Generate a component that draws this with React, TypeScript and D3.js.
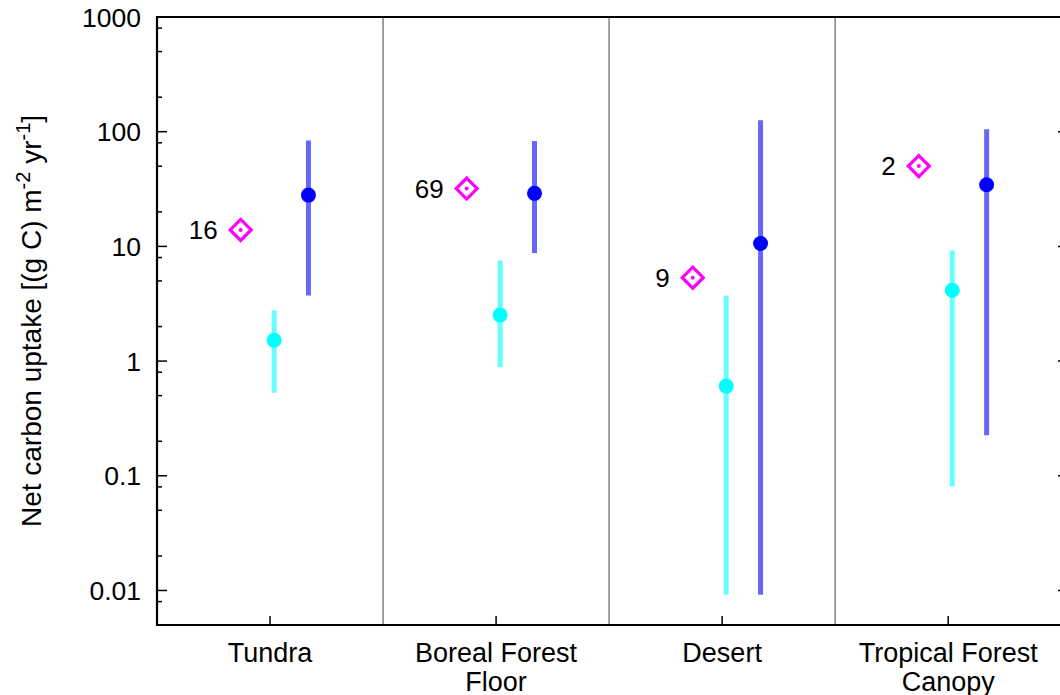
import React, { useEffect, useRef } from 'react';
import * as d3 from 'd3';

const categories = ['Tundra', 'Boreal Forest|Floor', 'Desert', 'Tropical Forest|Canopy'];
const countLabels = ['16', '69', '9', '2'];
const diamondValues = [13.9, 31.9, 5.34, 50.1];
const cyanMid = [1.52, 2.52, 0.605, 4.14];
const cyanLow = [0.53, 0.887, 0.0092, 0.0808];
const cyanHigh = [2.77, 7.55, 3.74, 9.23];
const blueMid = [28, 29.0, 10.6, 34.5];
const blueLow = [3.74, 8.74, 0.0092, 0.226];
const blueHigh = [84, 82.8, 125.6, 104.8];
const majorTicks = [0.01, 0.1, 1, 10, 100, 1000];
const tickLabels = ['0.01', '0.1', '1', '10', '100', '1000'];

const W = 1060;
const H = 695;
const FONT = '"Liberation Sans", Arial, Helvetica, sans-serif';

export default function App() {
  const svgRef = useRef<SVGSVGElement>(null);

  useEffect(() => {
    if (!svgRef.current) return;
    const svg = d3.select(svgRef.current);
    svg.selectAll('*').remove();

    const left = 157;
    const right = 1068;
    const top = 17;
    const bottom = 625;

    const x = d3.scaleLinear().domain([0.5, 4.53]).range([left, right]);
    const y = d3.scaleLog().domain([0.005, 1000]).range([bottom, top]);

    const idx = categories.map((_, i) => i + 1);

    // minor ticks at 2, 5, 8 of each decade
    const minor: number[] = [];
    for (let e = -3; e <= 2; e++) {
      [2, 5, 8].forEach(m => {
        const v = m * Math.pow(10, e);
        if (v >= 0.005 && v <= 1000) minor.push(v);
      });
    }

    // category separators
    svg.append('g')
      .selectAll('line')
      .data([1.5, 2.5, 3.5])
      .enter()
      .append('line')
      .attr('x1', d => x(d)).attr('x2', d => x(d))
      .attr('y1', top).attr('y2', bottom)
      .attr('stroke', '#808080')
      .attr('stroke-width', 1.5);

    // left axis ticks
    svg.append('g')
      .selectAll('line')
      .data(majorTicks)
      .enter()
      .append('line')
      .attr('x1', left).attr('x2', left + 10)
      .attr('y1', d => y(d)).attr('y2', d => y(d))
      .attr('stroke', '#000').attr('stroke-width', 1.5);
    svg.append('g')
      .selectAll('line')
      .data(minor)
      .enter()
      .append('line')
      .attr('x1', left).attr('x2', left + 5)
      .attr('y1', d => y(d)).attr('y2', d => y(d))
      .attr('stroke', '#000').attr('stroke-width', 1.5);

    // mirrored right ticks
    svg.append('g')
      .selectAll('line')
      .data(majorTicks)
      .enter()
      .append('line')
      .attr('x1', right - 10).attr('x2', right)
      .attr('y1', d => y(d)).attr('y2', d => y(d))
      .attr('stroke', '#000').attr('stroke-width', 1.5);

    // bottom ticks
    svg.append('g')
      .selectAll('line')
      .data(idx)
      .enter()
      .append('line')
      .attr('x1', d => x(d)).attr('x2', d => x(d))
      .attr('y1', bottom).attr('y2', bottom - 9)
      .attr('stroke', '#000').attr('stroke-width', 1.5);

    // frame
    svg.append('path')
      .attr('d', `M${left},${bottom}H${right}V${top}H${left}Z`)
      .attr('fill', 'none')
      .attr('stroke', '#000')
      .attr('stroke-width', 2.2);

    // y tick labels
    svg.append('g')
      .selectAll('text')
      .data(majorTicks)
      .enter()
      .append('text')
      .attr('x', 141)
      .attr('y', d => y(d))
      .attr('dy', '0.36em')
      .attr('text-anchor', 'end')
      .attr('font-family', FONT)
      .attr('font-size', 26.5)
      .text((d, i) => tickLabels[i]);

    // category labels
    const cat = svg.append('g')
      .selectAll('text')
      .data(categories)
      .enter()
      .append('text')
      .attr('text-anchor', 'middle')
      .attr('font-family', FONT)
      .attr('font-size', 27);
    cat.each(function (d, i) {
      const t = d3.select(this);
      d.split('|').forEach((line, j) => {
        t.append('tspan')
          .attr('x', x(i + 1))
          .attr('y', 662 + j * 29)
          .text(line);
      });
    });

    // y axis title
    const title = svg.append('text')
      .attr('transform', `translate(41,${(top + bottom) / 2}) rotate(-90)`)
      .attr('text-anchor', 'middle')
      .attr('font-family', FONT)
      .attr('font-size', 28);
    title.append('tspan').text('Net carbon uptake [(g C) m');
    title.append('tspan').attr('dy', -11).attr('font-size', 20).text('-2');
    title.append('tspan').attr('dy', 11).text(' yr');
    title.append('tspan').attr('dy', -11).attr('font-size', 20).text('-1');
    title.append('tspan').attr('dy', 11).text(']');

    const offDiamond = -0.13;
    const offCyan = 0.018;
    const offBlue = 0.17;

    // cyan error bars + points
    svg.append('g')
      .selectAll('line')
      .data(idx)
      .enter()
      .append('line')
      .attr('x1', d => x(d + offCyan)).attr('x2', d => x(d + offCyan))
      .attr('y1', (d, i) => y(cyanLow[i])).attr('y2', (d, i) => y(cyanHigh[i]))
      .attr('stroke', '#66ffff').attr('stroke-width', 5);
    svg.append('g')
      .selectAll('circle')
      .data(idx)
      .enter()
      .append('circle')
      .attr('cx', d => x(d + offCyan))
      .attr('cy', (d, i) => y(cyanMid[i]))
      .attr('r', 7.5)
      .attr('fill', '#00ffff');

    // blue error bars + points
    svg.append('g')
      .selectAll('line')
      .data(idx)
      .enter()
      .append('line')
      .attr('x1', d => x(d + offBlue)).attr('x2', d => x(d + offBlue))
      .attr('y1', (d, i) => y(blueLow[i])).attr('y2', (d, i) => y(blueHigh[i]))
      .attr('stroke', '#6666ff').attr('stroke-width', 5);
    svg.append('g')
      .selectAll('circle')
      .data(idx)
      .enter()
      .append('circle')
      .attr('cx', d => x(d + offBlue))
      .attr('cy', (d, i) => y(blueMid[i]))
      .attr('r', 7.5)
      .attr('fill', '#0000ff');

    // magenta diamonds with count labels
    const dg = svg.append('g')
      .selectAll('g')
      .data(idx)
      .enter()
      .append('g')
      .attr('transform', (d, i) => `translate(${x(d + offDiamond)},${y(diamondValues[i])})`);
    dg.append('path')
      .attr('d', 'M0,-10.5L10.5,0L0,10.5L-10.5,0Z')
      .attr('fill', 'none')
      .attr('stroke', '#ff00ff')
      .attr('stroke-width', 3.2);
    dg.append('circle')
      .attr('r', 2)
      .attr('fill', '#ff00ff');
    dg.append('text')
      .attr('x', -23)
      .attr('dy', '0.36em')
      .attr('text-anchor', 'end')
      .attr('font-family', FONT)
      .attr('font-size', 26)
      .text((d, i) => countLabels[i]);
  }, []);

  return (
    <svg
      ref={svgRef}
      width={W}
      height={H}
      style={{ position: 'absolute', left: 0, top: 0, background: '#fff', display: 'block' }}
    />
  );
}
